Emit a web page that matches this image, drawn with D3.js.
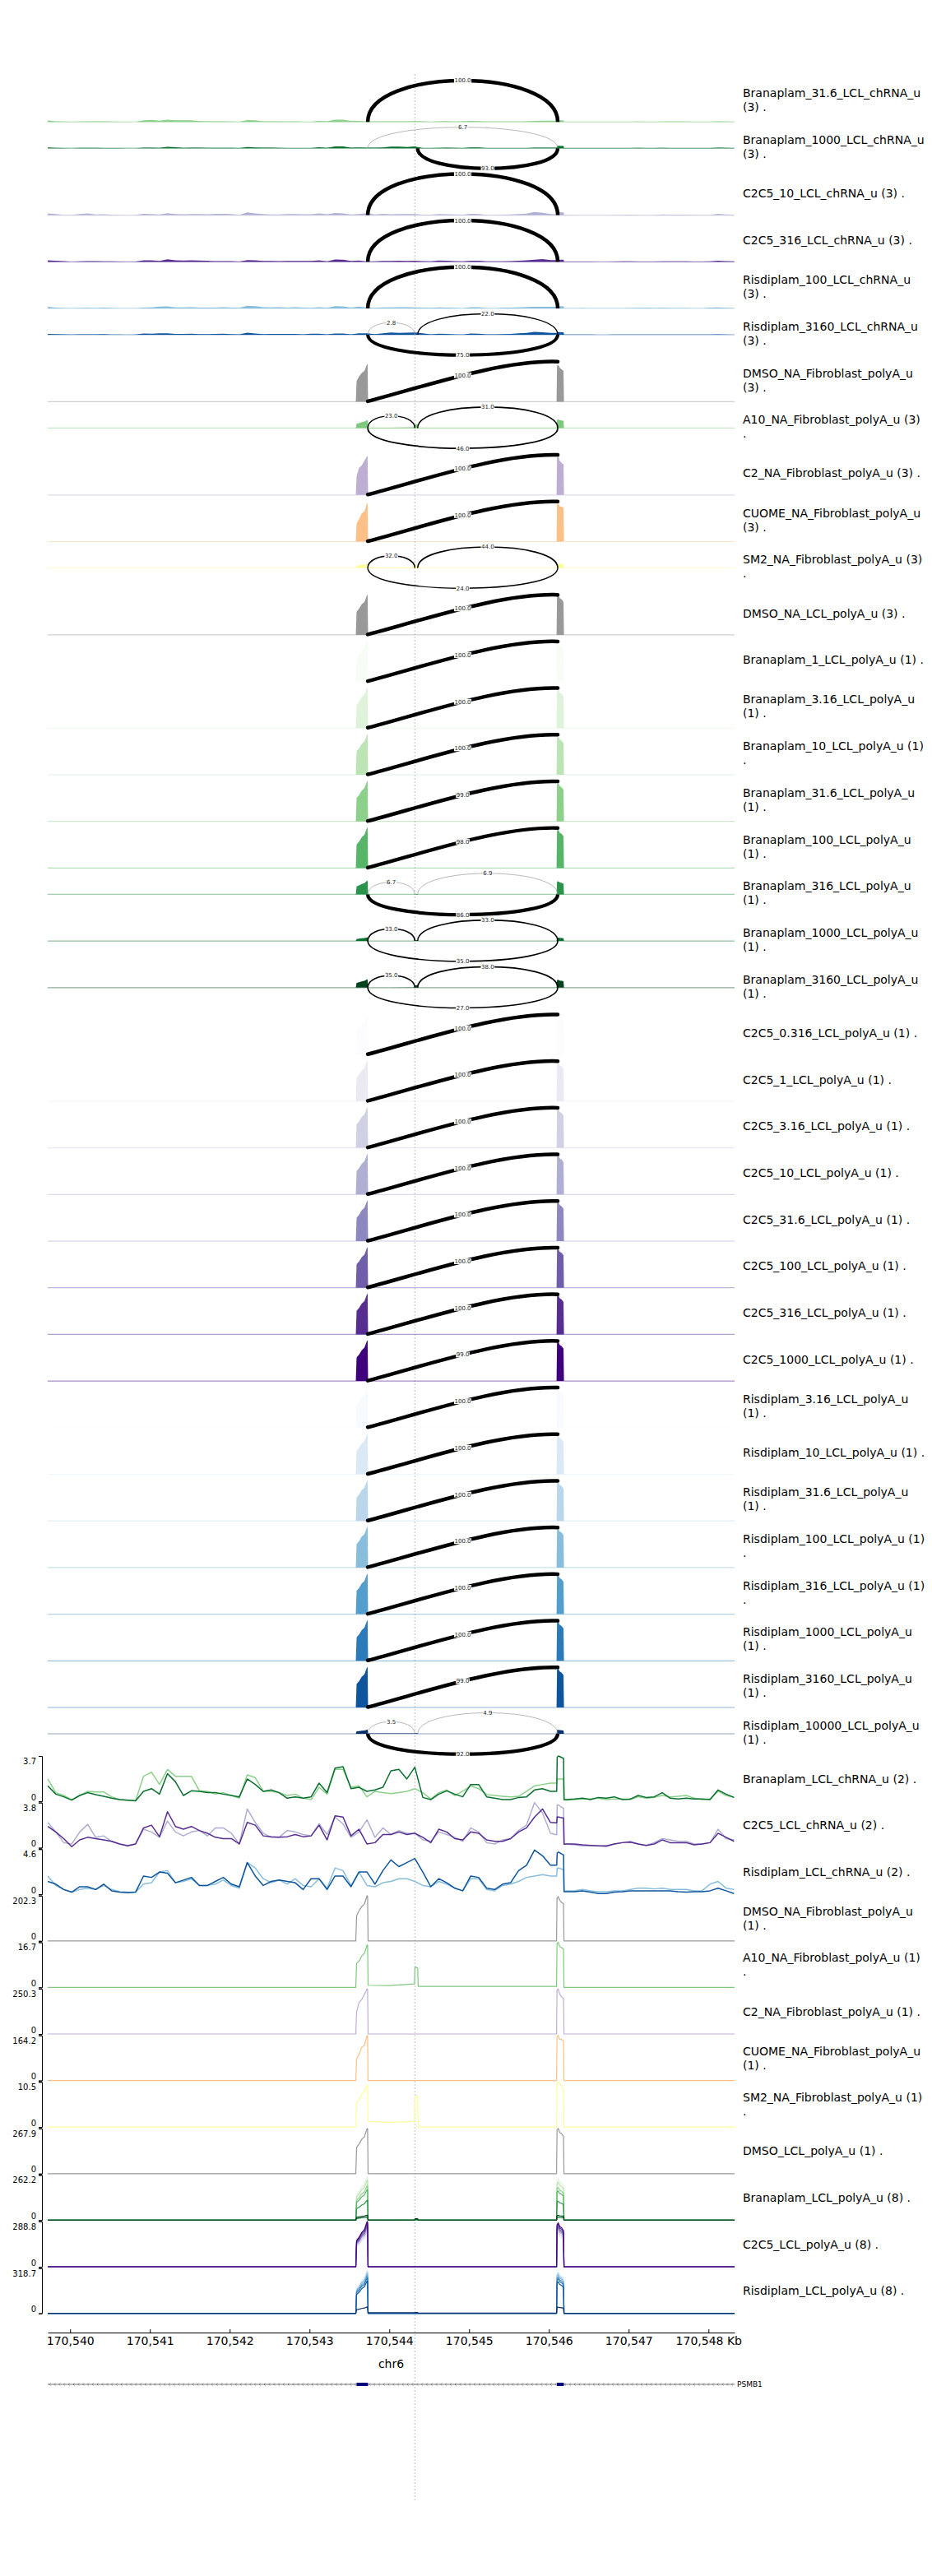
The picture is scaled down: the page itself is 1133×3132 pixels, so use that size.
<!DOCTYPE html>
<html><head><meta charset="utf-8">
<script src="https://cdn.jsdelivr.net/npm/d3@7"></script>
<style>body{margin:0;background:#fff}</style>
</head><body>
<svg id="chart" width="1133" height="3132"></svg>
<script>
// ---------------- DATA ----------------
const regionStart = 170539719, regionEnd = 170548327;
const tickValues = [170540000,170541000,170542000,170543000,170544000,170545000,170546000,170547000,170548000];
const tickLabels = ["170,540","170,541","170,542","170,543","170,544","170,545","170,546","170,547","170,548 Kb"];
const chromName = "chr6";
const geneName = "PSMB1";
const geneExons = [[170543590,170543733],[170546101,170546187]];
const markerPos = 170544320;

// junctions (start, end)
const junctionStart = {long:170543730, a:170543730, b:170544355};
const junctionEnd   = {long:170546111, a:170544320, b:170546111};

// chRNA coverage, 100 bp grid + exon-2 refinement
const chrnaStart = 170539720, chrnaStep = 100;
const chrnaExonPos = [170546098,170546104,170546184,170546190];
const branChr31_6 = [1.82,0.70,0.47,0.13,0.47,0.81,0.76,0.76,0.36,0.13,0.09,0.04,2.04,2.38,1.37,2.60,2.04,2.04,2.04,0.85,0.81,0.58,0.70,0.47,0.25,2.15,1.93,0.81,0.81,0.70,0.47,0.58,0.25,0.13,1.14,0.58,2.60,2.60,1.14,1.26,0.36,0.81,0.70,0.63,0.70,0.81,1.03,0.70,0.18,0.70,0.92,0.47,0.81,1.26,1.03,0.54,0.47,0.40,0.36,0.40,0.81,1.26,1.37,1.48,1.82,0.09,0.13,0.18,0.18,0.25,0.13,0.18,0.18,0.13,0.36,0.25,0.31,0.47,0.36,0.40,0.47,0.25,0.13,0.18,0.81,0.47,0.31];
const branChr31_6Exon = [1.48,1.82,1.82,0.10];
const branChr1000 = [1.26,0.58,0.36,0.09,0.47,0.70,0.54,0.40,0.25,0.13,0.09,0.04,0.81,1.03,0.58,2.26,1.59,0.47,0.85,0.81,0.70,0.70,0.58,0.47,0.36,1.82,1.37,0.81,0.92,0.70,0.25,0.36,0.25,0.36,1.48,0.70,2.71,2.82,1.03,1.14,0.81,0.92,1.14,2.49,2.60,1.82,2.78,0.31,0.13,0.58,0.85,0.58,0.36,1.37,1.37,0.36,0.25,0.13,0.13,0.31,0.36,0.92,1.03,0.81,3.70,0.13,0.18,0.25,0.13,0.31,0.25,0.36,0.13,0.18,0.47,0.31,0.36,0.70,0.25,0.18,0.25,0.18,0.18,0.13,0.92,0.58,0.31];
const branChr1000Exon = [0.81,3.60,3.50,0.13];
const c2c5Chr10 = [2.13,1.33,0.43,0.32,1.33,1.97,0.88,1.00,0.54,0.32,0.20,0.32,1.56,1.33,0.88,2.24,1.33,1.00,1.33,1.45,1.00,1.67,1.67,1.22,0.32,3.26,2.13,1.22,0.88,0.88,1.45,1.33,1.11,1.00,2.01,1.11,2.58,2.01,0.88,1.33,2.35,0.88,1.67,1.11,1.45,1.22,1.22,0.66,0.54,1.33,1.11,0.88,0.54,1.67,1.33,0.43,0.32,0.66,0.77,1.45,1.90,3.80,2.92,1.22,3.60,0.32,0.25,0.16,0.20,0.16,0.09,0.32,0.43,0.54,0.32,0.20,0.43,0.77,0.66,0.54,0.54,0.32,0.32,0.43,1.56,0.77,0.66];
const c2c5Chr10Exon = [1.10,3.60,3.30,0.30];
const c2c5Chr316 = [1.79,1.33,0.77,0.09,0.66,0.88,0.77,0.66,0.54,0.32,0.16,0.32,1.67,1.90,0.93,3.03,1.79,1.56,1.79,1.45,1.22,0.88,0.77,0.77,0.32,2.13,1.90,1.00,0.93,0.88,0.93,1.11,0.93,1.00,1.90,0.66,2.69,2.58,1.00,1.56,0.32,0.43,1.11,1.11,1.33,1.11,1.22,0.88,0.43,1.56,1.33,0.77,0.66,1.33,1.22,0.66,0.54,0.54,0.77,1.33,1.67,2.58,3.26,2.13,2.58,0.32,0.32,0.25,0.20,0.16,0.16,0.32,0.43,0.48,0.32,0.20,0.32,0.66,0.43,0.43,0.43,0.25,0.32,0.43,1.22,0.88,0.54];
const c2c5Chr316Exon = [2.10,2.60,2.50,0.30];
const risChr100 = [1.86,0.90,0.49,0.22,0.49,0.63,0.49,0.90,0.49,0.27,0.22,0.22,1.04,1.18,2.27,2.41,1.18,1.31,1.59,0.90,0.90,1.04,1.45,0.90,0.63,3.23,2.68,1.59,1.18,1.45,1.04,1.59,0.90,0.77,1.59,0.63,2.68,2.41,0.90,2.27,0.90,0.77,1.18,1.31,1.59,1.59,1.31,0.90,0.77,1.31,1.04,0.63,0.36,1.59,1.59,0.49,0.36,0.90,1.04,1.31,1.72,1.86,2.00,1.86,2.68,0.36,0.36,0.49,0.36,0.27,0.27,0.36,0.36,0.49,0.63,0.63,0.55,0.63,0.49,0.49,0.49,0.36,0.36,1.04,1.31,0.63,0.49];
const risChr100Exon = [1.86,2.68,2.50,0.36];
const risChr3160 = [1.31,1.04,0.49,0.22,0.77,0.77,0.49,1.04,0.36,0.22,0.16,0.22,1.86,1.72,2.27,2.14,1.18,1.45,1.72,0.90,0.90,1.31,1.72,1.04,0.77,3.23,1.86,0.90,1.31,1.45,1.31,1.18,0.49,1.59,1.59,0.49,1.86,1.86,0.77,2.27,2.27,1.04,2.41,3.50,2.82,3.23,3.64,2.27,0.77,1.59,1.18,0.63,0.36,1.86,1.72,0.63,0.49,1.04,1.18,2.41,2.96,4.50,3.92,2.96,4.30,0.27,0.27,0.36,0.22,0.08,0.08,0.22,0.27,0.36,0.36,0.36,0.36,0.36,0.36,0.27,0.22,0.27,0.27,0.36,0.63,0.36,0.08];
const risChr3160Exon = [2.96,4.20,4.00,0.27];

// polyA coverage, breakpoints across exon 1, cryptic exon, exon 2
const polyPos = [170539719,170543580,170543590,170543621,170543654,170543688,170543722,170543728,170543734,170544000,170544316,170544322,170544356,170544362,170545200,170546096,170546102,170546117,170546135,170546160,170546183,170546189,170548327];
const fibDMSO  = [0,0,111,135,153,165,202.3,200,0,0,0,0,0,0,0,0,192,198,182,172,166,0,0];
const fibA10   = [0,0,8.9,9.7,11.6,12.6,15.7,15.5,0.8,0.7,1.3,7.6,7.1,0.4,0.4,0.4,16.2,16.7,15.1,14.7,14.2,0,0];
const fibC2    = [0,0,121,175,190,220,250.3,248,0,0,0,0,0,0,0,0,243,250,220,205,198,0,0];
const fibCUOME = [0,0,79,95,120,128,164.2,162,0,0,0,0,0,0,0,0,159,164,149,149,144,0,0];
const fibSM2   = [0,0,5.7,6.4,7.6,8.3,9.7,9.7,1.3,1.1,1.3,7.0,7.3,0,0,0,10.2,10.5,10.2,9.6,8.6,0,0];
const lclDMSO  = [0,0,154,175,203,219,267.9,265,0,0,0,0,0,0,0,0,260,268,244,236,220,0,0];
const bran1    = [0,0,152,170,199,215,262.2,260,0,0,0,0,0,0,0,0,241,249,228,220,204,0,0];
const bran3_16 = [0,0,145,163,190,205,250,248,0,0,0,0,0,0,0,0,230,238,218,210,195,0,0];
const bran10   = [0,0,135,151,176,190,232,230,0,0,0,0,0,0,0,0,213,220,202,195,181,0,0];
const bran31_6 = [0,0,116,130,152,164,200,198,0,0,0,0,0,0,0,0,184,190,174,168,156,0,0];
const bran100  = [0,0,103,116,135,146,178,176,0,0,0,0,0,0,0,0,164,169,155,150,139,0,0];
const bran316  = [0,0,67,75,88,95,116,115,0,0,0,2,2,0,0,0,107,110,101,97,90,0,0];
const bran1000 = [0,0,10,12,14,15,18,18,0,0,0.5,5,5,0,0,0,17,17,16,15,14,0,0];
const bran3160 = [0,0,17,19,22,24,29,29,0,0.5,1,8,8,0,0,0,27,28,25,24,23,0,0];
const c2c5_0_316 = [0,0,116,130,152,164,200,198,0,0,0,0,0,0,0,0,186,194,178,172,160,0,0];
const c2c5_1     = [0,0,125,140,163,176,215,213,0,0,0,0,0,0,0,0,200,209,191,185,172,0,0];
const c2c5_3_16  = [0,0,133,150,175,189,230,228,0,0,0,0,0,0,0,0,214,223,205,198,184,0,0];
const c2c5_10    = [0,0,142,159,186,201,245,243,0,0,0,0,0,0,0,0,228,238,218,211,196,0,0];
const c2c5_31_6  = [0,0,148,166,194,209,255,252,0,0,0,0,0,0,0,0,237,247,227,219,204,0,0];
const c2c5_100   = [0,0,154,172,201,217,265,262,0,0,0,0,0,0,0,0,246,257,236,228,212,0,0];
const c2c5_316   = [0,0,161,181,211,228,278,275,0,0,0,0,0,0,0,0,259,270,247,239,222,0,0];
const c2c5_1000  = [0,0,167,188,219,237,288.8,286,0,0,0,0,0,0,0,0,269,280,257,248,231,0,0];
const ris3_16  = [0,0,181,203,237,256,312,309,0,0,0,0,0,0,0,0,296,318.7,284,274,255,0,0];
const ris10    = [0,0,174,195,228,246,300,297,0,0,0,0,0,0,0,0,279,291,267,258,240,0,0];
const ris31_6  = [0,0,168,189,220,238,290,287,0,0,0,0,0,0,0,0,270,281,258,249,232,0,0];
const ris100   = [0,0,162,182,213,230,280,277,0,0,0,0,0,0,0,0,260,272,249,241,224,0,0];
const ris316   = [0,0,154,172,201,217,265,262,0,0,0,0,0,0,0,0,246,257,236,228,212,0,0];
const ris1000  = [0,0,145,163,190,205,250,248,0,0,0,0,0,0,0,0,233,243,223,215,200,0,0];
const ris3160  = [0,0,132,148,173,187,228,226,0,0,0,0,0,0,0,0,212,221,203,196,182,0,0];
const ris10000 = [0,0,26,29,34,37,45,45,4,4,4,6,6,1,1,1,42,44,40,39,36,0,0];

// sashimi tracks
const sashimiLabels = [
"Branaplam_31.6_LCL_chRNA_u\n(3) .","Branaplam_1000_LCL_chRNA_u\n(3) .","C2C5_10_LCL_chRNA_u (3) .","C2C5_316_LCL_chRNA_u (3) .",
"Risdiplam_100_LCL_chRNA_u\n(3) .","Risdiplam_3160_LCL_chRNA_u\n(3) .","DMSO_NA_Fibroblast_polyA_u\n(3) .","A10_NA_Fibroblast_polyA_u (3)\n.",
"C2_NA_Fibroblast_polyA_u (3) .","CUOME_NA_Fibroblast_polyA_u\n(3) .","SM2_NA_Fibroblast_polyA_u (3)\n.","DMSO_NA_LCL_polyA_u (3) .",
"Branaplam_1_LCL_polyA_u (1) .","Branaplam_3.16_LCL_polyA_u\n(1) .","Branaplam_10_LCL_polyA_u (1)\n.","Branaplam_31.6_LCL_polyA_u\n(1) .",
"Branaplam_100_LCL_polyA_u\n(1) .","Branaplam_316_LCL_polyA_u\n(1) .","Branaplam_1000_LCL_polyA_u\n(1) .","Branaplam_3160_LCL_polyA_u\n(1) .",
"C2C5_0.316_LCL_polyA_u (1) .","C2C5_1_LCL_polyA_u (1) .","C2C5_3.16_LCL_polyA_u (1) .","C2C5_10_LCL_polyA_u (1) .",
"C2C5_31.6_LCL_polyA_u (1) .","C2C5_100_LCL_polyA_u (1) .","C2C5_316_LCL_polyA_u (1) .","C2C5_1000_LCL_polyA_u (1) .",
"Risdiplam_3.16_LCL_polyA_u\n(1) .","Risdiplam_10_LCL_polyA_u (1) .","Risdiplam_31.6_LCL_polyA_u\n(1) .","Risdiplam_100_LCL_polyA_u (1)\n.",
"Risdiplam_316_LCL_polyA_u (1)\n.","Risdiplam_1000_LCL_polyA_u\n(1) .","Risdiplam_3160_LCL_polyA_u\n(1) .","Risdiplam_10000_LCL_polyA_u\n(1) ."];
const sashimiSamples = ["branChr31_6","branChr1000","c2c5Chr10","c2c5Chr316","risChr100","risChr3160",
"fibDMSO","fibA10","fibC2","fibCUOME","fibSM2","lclDMSO",
"bran1","bran3_16","bran10","bran31_6","bran100","bran316","bran1000","bran3160",
"c2c5_0_316","c2c5_1","c2c5_3_16","c2c5_10","c2c5_31_6","c2c5_100","c2c5_316","c2c5_1000",
"ris3_16","ris10","ris31_6","ris100","ris316","ris1000","ris3160","ris10000"];
const sashimiYMax = [55,40,55,55,55,40, 245,50,295,195,63,305, 295,282,262,226,201,215,130,90, 226,243,260,277,288,300,314,326, 360,339,328,316,300,283,258,280];
// [junction, percent, side]
const sashimiArcs = [
[["long",100.0,"up"]],
[["long",6.7,"up"],["b",93.0,"down"]],
[["long",100.0,"up"]],
[["long",100.0,"up"]],
[["long",100.0,"up"]],
[["a",2.8,"up"],["b",22.0,"up"],["long",75.0,"down"]],
[["long",100.0,"rise"]],
[["a",23.0,"up"],["b",31.0,"up"],["long",46.0,"down"]],
[["long",100.0,"rise"]],
[["long",100.0,"rise"]],
[["a",32.0,"up"],["b",44.0,"up"],["long",24.0,"down"]],
[["long",100.0,"rise"]],
[["long",100.0,"rise"]],
[["long",100.0,"rise"]],
[["long",100.0,"rise"]],
[["long",99.0,"rise"]],
[["long",98.0,"rise"]],
[["a",6.7,"up"],["b",6.9,"up"],["long",86.0,"down"]],
[["a",33.0,"up"],["b",33.0,"up"],["long",35.0,"down"]],
[["a",35.0,"up"],["b",38.0,"up"],["long",27.0,"down"]],
[["long",100.0,"rise"]],[["long",100.0,"rise"]],[["long",100.0,"rise"]],[["long",100.0,"rise"]],
[["long",100.0,"rise"]],[["long",100.0,"rise"]],[["long",100.0,"rise"]],[["long",99.0,"rise"]],
[["long",100.0,"rise"]],[["long",100.0,"rise"]],[["long",100.0,"rise"]],[["long",100.0,"rise"]],
[["long",100.0,"rise"]],[["long",100.0,"rise"]],[["long",99.0,"rise"]],
[["a",3.5,"up"],["b",4.9,"up"],["long",92.0,"down"]]
];

// coverage tracks
const covLabels = ["Branaplam_LCL_chRNA_u (2) .","C2C5_LCL_chRNA_u (2) .","Risdiplam_LCL_chRNA_u (2) .",
"DMSO_NA_Fibroblast_polyA_u\n(1) .","A10_NA_Fibroblast_polyA_u (1)\n.","C2_NA_Fibroblast_polyA_u (1) .",
"CUOME_NA_Fibroblast_polyA_u\n(1) .","SM2_NA_Fibroblast_polyA_u (1)\n.","DMSO_LCL_polyA_u (1) .",
"Branaplam_LCL_polyA_u (8) .","C2C5_LCL_polyA_u (8) .","Risdiplam_LCL_polyA_u (8) ."];
const covMaxLabels = ["3.7","3.8","4.6","202.3","16.7","250.3","164.2","10.5","267.9","262.2","288.8","318.7"];
const branKeys = ["bran1","bran3_16","bran10","bran31_6","bran100","bran316","bran1000","bran3160"];
const c2c5Keys = ["c2c5_0_316","c2c5_1","c2c5_3_16","c2c5_10","c2c5_31_6","c2c5_100","c2c5_316","c2c5_1000"];
const risKeys  = ["ris3_16","ris10","ris31_6","ris100","ris316","ris1000","ris3160","ris10000"];
const covSeries = [["branChr31_6","branChr1000"],["c2c5Chr10","c2c5Chr316"],["risChr100","risChr3160"],
["fibDMSO"],["fibA10"],["fibC2"],["fibCUOME"],["fibSM2"],["lclDMSO"],branKeys,c2c5Keys,risKeys];

// ---------------- BUILD ----------------
const FONT = "DejaVu Sans";
const X0 = 58, X1 = 893;
const x = d3.scaleLinear().domain([regionStart, regionEnd]).range([X0, X1]);
const svg = d3.select("#chart");
svg.append("rect").attr("width",1133).attr("height",3132).attr("fill","#fff");

function chrnaPoints(vals, exonVals){
  const pts = vals.map((v,i)=>[chrnaStart + i*chrnaStep, v]);
  chrnaExonPos.forEach((p,j)=>pts.push([p, exonVals[j]]));
  pts.sort((a,b)=>a[0]-b[0]);
  return pts;
}
const polyPoints = vals => polyPos.map((p,i)=>[p, vals[i]]);

const profiles = {};
profiles.branChr31_6 = {pts: chrnaPoints(branChr31_6, branChr31_6Exon), color: d3.interpolateGreens(3/7)};
profiles.branChr1000 = {pts: chrnaPoints(branChr1000, branChr1000Exon), color: d3.interpolateGreens(6/7)};
profiles.c2c5Chr10 = {pts: chrnaPoints(c2c5Chr10, c2c5Chr10Exon), color: d3.interpolatePurples(3/7)};
profiles.c2c5Chr316 = {pts: chrnaPoints(c2c5Chr316, c2c5Chr316Exon), color: d3.interpolatePurples(6/7)};
profiles.risChr100 = {pts: chrnaPoints(risChr100, risChr100Exon), color: d3.interpolateBlues(3/7)};
profiles.risChr3160 = {pts: chrnaPoints(risChr3160, risChr3160Exon), color: d3.interpolateBlues(6/7)};
profiles.fibDMSO = {pts: polyPoints(fibDMSO), color:"#999999"};
profiles.fibA10 = {pts: polyPoints(fibA10), color:"#7fc97f"};
profiles.fibC2 = {pts: polyPoints(fibC2), color:"#beaed4"};
profiles.fibCUOME = {pts: polyPoints(fibCUOME), color:"#fdc086"};
profiles.fibSM2 = {pts: polyPoints(fibSM2), color:"#ffff99"};
profiles.lclDMSO = {pts: polyPoints(lclDMSO), color:"#999999"};
const branVals = [bran1,bran3_16,bran10,bran31_6,bran100,bran316,bran1000,bran3160];
const c2c5Vals = [c2c5_0_316,c2c5_1,c2c5_3_16,c2c5_10,c2c5_31_6,c2c5_100,c2c5_316,c2c5_1000];
const risVals = [ris3_16,ris10,ris31_6,ris100,ris316,ris1000,ris3160,ris10000];
branKeys.forEach((k,i)=>profiles[k] = {pts: polyPoints(branVals[i]), color: d3.interpolateGreens(i/7)});
c2c5Keys.forEach((k,i)=>profiles[k] = {pts: polyPoints(c2c5Vals[i]), color: d3.interpolatePurples(i/7)});
risKeys.forEach((k,i)=>profiles[k] = {pts: polyPoints(risVals[i]), color: d3.interpolateBlues(i/7)});

function trackLabel(cy, text){
  const lines = text.split("\n");
  const t = svg.append("text").attr("font-family",FONT).attr("font-size",14).attr("fill","#000");
  lines.forEach((l,j)=>t.append("tspan").attr("x",903)
    .attr("y", cy + (j-(lines.length-1)/2)*17).attr("dy","0.36em").text(l));
}

// vertical marker line
svg.append("line").attr("x1",x(markerPos)).attr("x2",x(markerPos)).attr("y1",90).attr("y2",3040)
  .attr("stroke","#b0b0b0").attr("stroke-width",0.8).attr("stroke-dasharray","2,2");

// ---- sashimi tracks ----
const S_TOP = 92.5, S_H = 56.7;
const arcLabels = [];
function arcWidth(p){ if(p<10) return 0.7; if(p<70) return 1.2+p*0.012; return 4.5-(100-p)*0.02; }
function bez(p0,p1,p2,p3,t){const u=1-t;return u*u*u*p0+3*u*u*t*p1+3*u*t*t*p2+t*t*t*p3;}

sashimiLabels.forEach((lab,i)=>{
  const top = S_TOP + i*S_H, bottom = top + S_H;
  const arcs = sashimiArcs[i];
  const hasDown = arcs.some(a=>a[2]==="down");
  const base = hasDown ? top + 31 : bottom - 1;
  const prof = profiles[sashimiSamples[i]];
  const cm = sashimiYMax[i];
  const yc = d3.scaleLinear().domain([0, cm]).range([base, top]).clamp(true);
  const g = svg.append("g");
  g.append("line").attr("x1",X0).attr("x2",X1).attr("y1",base).attr("y2",base)
    .attr("stroke",prof.color).attr("stroke-opacity",0.45).attr("stroke-width",1.2);
  g.append("path").datum(prof.pts)
    .attr("d", d3.area().x(d=>x(d[0])).y0(base).y1(d=>yc(d[1])))
    .attr("fill", prof.color);
  const spanOf = a => x(junctionEnd[a[0]]) - x(junctionStart[a[0]]);
  const maxUp = d3.max(arcs.filter(a=>a[2]==="up"), spanOf) || 1;
  const maxDown = d3.max(arcs.filter(a=>a[2]==="down"), spanOf) || 1;
  arcs.forEach(a=>{
    const x1 = x(junctionStart[a[0]]), x2 = x(junctionEnd[a[0]]);
    const span = x2 - x1, p = a[1];
    let d, lx, ly;
    if(a[2]==="up"){
      const h = (base - top - 5.5)*Math.sqrt(span/maxUp);
      const c = base - 4*h/3;
      d = `M${x1},${base} C${x1},${c} ${x2},${c} ${x2},${base}`;
      lx = (x1+x2)/2; ly = base - h;
    } else if(a[2]==="down"){
      const h = (bottom - base - 1)*Math.sqrt(span/maxDown);
      const c = base + 4*h/3;
      d = `M${x1},${base} C${x1},${c} ${x2},${c} ${x2},${base}`;
      lx = (x1+x2)/2; ly = base + h;
    } else {
      const y0 = bottom - 1.5, y3 = top + 7;
      const p1x = x1 + 0.3*span, p1y = y0 - 18, p2x = x2 - 0.3*span, p2y = y3 - 2;
      d = `M${x1},${y0} C${p1x},${p1y} ${p2x},${p2y} ${x2},${y3}`;
      lx = bez(x1,p1x,p2x,x2,0.5); ly = bez(y0,p1y,p2y,y3,0.5);
    }
    g.append("path").attr("d",d).attr("fill","none")
      .attr("stroke", p<10 ? "#9a9a9a" : "#000").attr("stroke-width", arcWidth(p))
      .attr("stroke-linecap", a[2]==="rise" ? "round" : "butt");
    arcLabels.push([lx, ly, d3.format(".1f")(p)]);
  });
  trackLabel(top + S_H/2 + 1, lab);
});
arcLabels.forEach(([lx,ly,txt])=>{
  const g = svg.append("g");
  const t = g.append("text").attr("x",lx).attr("y",ly).attr("dy","0.35em").attr("text-anchor","middle")
    .attr("font-family",FONT).attr("font-size",7).attr("fill","#222").text(txt);
  const bb = t.node().getBBox();
  g.insert("rect","text").attr("x",bb.x-0.5).attr("y",ly-3.4).attr("width",bb.width+1).attr("height",6.8).attr("fill","#fff");
});

// ---- coverage tracks ----
const C_TOP = 2135, C_STEP = 56.6, C_H = 55;
covLabels.forEach((lab,k)=>{
  const top = C_TOP + k*C_STEP, bottom = top + C_H;
  const maxV = +covMaxLabels[k];
  const y = d3.scaleLinear().domain([0,maxV]).range([bottom, top]);
  const g = svg.append("g");
  const isCh = k < 3;
  covSeries[k].forEach(key=>{
    const prof = profiles[key];
    g.append("path").datum(prof.pts)
      .attr("d", d3.line().x(d=>x(d[0])).y(d=>y(d[1])))
      .attr("fill","none").attr("stroke",prof.color).attr("stroke-width", isCh ? 1.5 : 1.2)
      .attr("stroke-linejoin","round");
  });
  const ax = g.append("g").attr("transform","translate(51,0)")
    .call(d3.axisLeft(y).tickValues([0,maxV]).tickSize(4).tickPadding(3)
      .tickFormat(d => d===0 ? "0" : covMaxLabels[k]));
  ax.attr("font-family",FONT).attr("font-size",10);
  ax.selectAll("text").attr("fill","#000").attr("dy",(d)=> d===0 ? "-0.2em" : "0.95em");
  ax.select(".domain").attr("stroke","#000");
  trackLabel(top + C_H/2, lab);
});

// ---- x axis ----
const xa = svg.append("g").attr("transform","translate(0,2836)")
  .call(d3.axisBottom(x).tickValues(tickValues).tickFormat((d,i)=>tickLabels[i])
    .tickSizeInner(-4).tickSizeOuter(0).tickPadding(5));
xa.attr("font-family",FONT).attr("font-size",14);
xa.selectAll("text").attr("fill","#000");
svg.append("text").attr("x",(X0+X1)/2).attr("y",2874).attr("dy","0.35em").attr("text-anchor","middle")
  .attr("font-family",FONT).attr("font-size",14).text(chromName);

// ---- gene track ----
const GY = 2899;
svg.append("line").attr("x1",X0).attr("x2",X1).attr("y1",GY).attr("y2",GY).attr("stroke","#555").attr("stroke-width",0.8);
const chev = svg.append("g");
d3.range(X0+2, X1, 5.8).forEach(cx=>{
  chev.append("path").attr("d",`M${cx+1.6},${GY-1.6} L${cx},${GY} L${cx+1.6},${GY+1.6}`)
    .attr("fill","none").attr("stroke","#555").attr("stroke-width",0.6);
});
geneExons.forEach(e=>{
  svg.append("rect").attr("x",x(e[0])).attr("width",x(e[1])-x(e[0])).attr("y",GY-2).attr("height",4).attr("fill","#00007f");
});
svg.append("text").attr("x",896).attr("y",GY).attr("dy","0.35em").attr("font-family",FONT).attr("font-size",9).text(geneName);
</script></body></html>
